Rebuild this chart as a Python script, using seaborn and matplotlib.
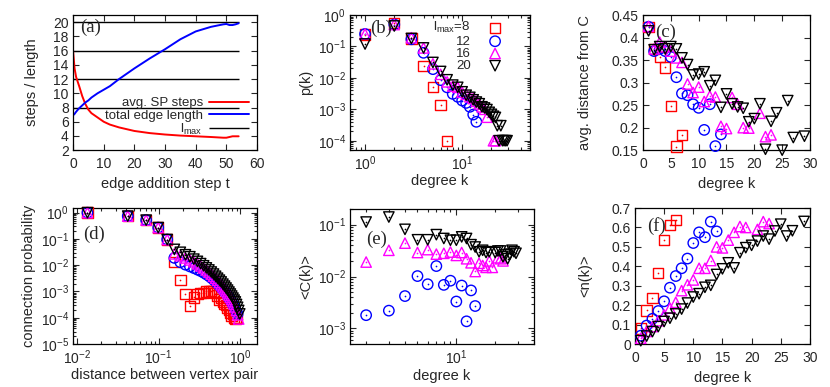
import numpy as np
import pandas as pd
import matplotlib
matplotlib.use("Agg")
import matplotlib.pyplot as plt
import seaborn as sns
from matplotlib.ticker import MultipleLocator, FuncFormatter, NullFormatter, LogLocator

# ---------------- data ----------------
# (a) evolution with edge addition step
t_step = [0, 0.5, 1, 2, 3, 4, 5, 6, 8, 10, 12, 15, 20, 25, 30, 35, 40, 45, 49, 50, 51, 52, 53, 54]
sp_steps = [16, 13.5, 12.3, 11.0, 9.6, 8.5, 7.7, 7.2, 6.6, 6.0, 5.6, 5.2, 4.7, 4.4, 4.2,
            4.05, 3.95, 3.85, 3.75, 3.75, 3.85, 3.95, 3.95, 3.95]
edge_len = [6.9, 7.1, 7.4, 7.9, 8.3, 8.7, 9.0, 9.4, 10.0, 10.5, 11.0, 12.0, 13.5, 14.9, 16.2,
            17.6, 18.7, 19.35, 19.7, 19.75, 19.6, 19.6, 19.7, 19.85]
lmax_levels = [8, 12, 16, 20]

# (b) degree distribution p(k)
b_k_8 = [1, 2, 3, 4, 5, 6, 7]
b_p_8 = [0.24, 0.55, 0.18, 0.024, 0.0052, 0.0014, 0.0001]
b_k_12 = [1, 2, 3, 4, 5, 6, 7, 8, 9, 10, 11, 12, 13, 14]
b_p_12 = [0.25, 0.5, 0.17, 0.063, 0.019, 0.0085, 0.005, 0.0031, 0.0025, 0.0019, 0.0016,
          0.0012, 0.00068, 0.0004]
b_k_16 = [1, 2, 3, 4, 5, 6, 7, 8, 9, 10, 11, 12, 13, 14, 15, 16, 17, 18, 21, 22]
b_p_16 = [0.25, 0.5, 0.19, 0.09, 0.028, 0.013, 0.0075, 0.0055, 0.005, 0.0035, 0.003, 0.0025,
          0.0022, 0.0018, 0.0015, 0.0012, 0.001, 0.00056, 0.0001, 0.0001]
b_k_20 = [1, 2, 3, 4, 5, 6, 7, 8, 9, 10, 11, 12, 13, 14, 15, 16, 17, 18, 19, 20, 21, 22,
          23, 24, 25, 26, 27, 28, 29]
b_p_20 = [0.12, 0.45, 0.18, 0.09, 0.031, 0.016, 0.0087, 0.0059, 0.005, 0.0036, 0.0028, 0.0024,
          0.002, 0.0017, 0.0015, 0.0012, 0.0011, 0.00098, 0.0008, 0.00069, 0.0006, 0.00055,
          0.0003, 0.0001, 0.0003, 0.0001, 0.0001, 0.0001, 0.0001]

# (c) avg. distance from C
c_k_8 = [1, 2, 3, 4, 5, 6, 7]
c_d_8 = [0.424, 0.375, 0.357, 0.334, 0.248, 0.158, 0.184]
c_k_12 = [1, 2, 3, 4, 5, 6, 7, 8, 9, 10, 11, 12, 13, 14]
c_d_12 = [0.424, 0.37, 0.375, 0.37, 0.357, 0.312, 0.276, 0.272, 0.252, 0.244, 0.195, 0.252,
          0.159, 0.185]
c_k_16 = [1, 2, 3, 4, 5, 6, 7, 8, 9, 10, 11, 12, 13, 14, 15, 16, 17, 18, 19, 21, 22, 23]
c_d_16 = [0.425, 0.375, 0.39, 0.38, 0.37, 0.355, 0.345, 0.297, 0.278, 0.29, 0.258, 0.27,
          0.268, 0.203, 0.198, 0.267, 0.252, 0.2, 0.199, 0.232, 0.18, 0.184]
c_k_20 = [1, 2, 3, 4, 5, 6, 7, 8, 9, 10, 11, 12, 13, 14, 15, 16, 17, 18, 19, 20, 21, 22,
          23, 24, 25, 26, 27, 29]
c_d_20 = [0.415, 0.373, 0.38, 0.375, 0.38, 0.375, 0.355, 0.34, 0.317, 0.319, 0.324, 0.293,
          0.305, 0.245, 0.275, 0.253, 0.246, 0.243, 0.213, 0.22, 0.253, 0.152, 0.214, 0.233,
          0.15, 0.26, 0.178, 0.181]

# (d) connection probability vs distance
d_dist = [0.0135, 0.042, 0.0705, 0.099, 0.1275, 0.156, 0.1845, 0.213, 0.2415, 0.27, 0.2985,
          0.327, 0.3555, 0.384, 0.4125, 0.441, 0.4695, 0.498, 0.5265, 0.555, 0.5835, 0.612,
          0.6405, 0.669, 0.6975, 0.726, 0.7545, 0.783, 0.8115, 0.84, 0.8685, 0.897, 0.9255,
          0.954, 0.9825]
d_p_8 = [1.0, 0.74, 0.52, 0.27, 0.095, 0.013, 0.0028, 0.0008, 0.00028, 0.0006, 0.0008,
         0.0009, 0.0009, 0.001, 0.001, 0.00105, 0.001, 0.0009, 0.0007, 0.0005, 0.0006, 0.0004,
         0.00035, 0.0003, 0.00025, 0.0002, 0.00016, 0.00012, 0.00014, 0.0001, 0.00009, 0.0001]
d_p_12 = [1.0, 0.74, 0.52, 0.27, 0.095, 0.019, 0.013, 0.0105, 0.009, 0.0078, 0.0068, 0.006,
          0.0052, 0.0045, 0.0039, 0.0033, 0.0028, 0.0024, 0.002, 0.0017, 0.0014, 0.0012,
          0.001, 0.00085, 0.0007, 0.00058, 0.00048, 0.0004, 0.00033, 0.00027, 0.00021,
          0.00017, 0.00014]
d_p_16 = [1.0, 0.74, 0.52, 0.27, 0.095, 0.027, 0.023, 0.019, 0.016, 0.0135, 0.0113, 0.0095,
          0.0079, 0.0066, 0.0055, 0.0046, 0.0038, 0.0032, 0.0027, 0.0022, 0.0018, 0.0015,
          0.00125, 0.00105, 0.00088, 0.00073, 0.0006, 0.0005, 0.00041, 0.00033, 0.00026,
          0.00019, 0.00013, 0.00009]
d_p_20 = [1.0, 0.74, 0.52, 0.27, 0.095, 0.04, 0.031, 0.025, 0.021, 0.017, 0.014, 0.0115,
          0.0095, 0.0079, 0.0066, 0.0055, 0.0046, 0.0038, 0.0032, 0.0027, 0.0023, 0.0019,
          0.0016, 0.00135, 0.00113, 0.00095, 0.0008, 0.00067, 0.00056, 0.00047, 0.0004,
          0.00032, 0.00025, 0.00019, 0.00014]

# (e) clustering <C(k)>  (no values for lmax=8)
e_k_12 = [2, 3, 4, 5, 6, 7, 8, 9, 10, 11, 12, 13, 14]
e_c_12 = [0.0018, 0.0022, 0.0042, 0.0102, 0.0071, 0.0159, 0.0069, 0.0083, 0.0033, 0.0067,
          0.00137, 0.0054, 0.0027]
e_k_16 = [2, 3, 4, 5, 6, 7, 8, 9, 10, 11, 12, 13, 14, 15, 16, 17, 18, 19, 21, 22, 23]
e_c_16 = [0.019, 0.032, 0.044, 0.029, 0.033, 0.027, 0.028, 0.0296, 0.0255, 0.029, 0.022,
          0.0184, 0.0125, 0.018, 0.0163, 0.015, 0.02, 0.015, 0.023, 0.022, 0.02]
e_k_20 = [2, 3, 4, 5, 6, 7, 8, 9, 10, 11, 12, 13, 14, 15, 16, 17, 18, 20, 21, 22, 23, 24,
          25, 26, 27, 28, 29]
e_c_20 = [0.112, 0.14, 0.081, 0.051, 0.051, 0.064, 0.054, 0.05, 0.05, 0.058, 0.054, 0.041,
          0.037, 0.03, 0.032, 0.029, 0.03, 0.029, 0.031, 0.031, 0.024, 0.026, 0.022, 0.027,
          0.032, 0.03, 0.028]

# (f) <n(k)>
f_k_8 = [1, 2, 3, 4, 5, 6, 7]
f_n_8 = [0.081, 0.173, 0.237, 0.366, 0.536, 0.613, 0.639]
f_k_12 = [1, 2, 3, 4, 5, 6, 7, 8, 9, 10, 11, 12, 13, 14]
f_n_12 = [0.043, 0.095, 0.13, 0.17, 0.22, 0.29, 0.35, 0.39, 0.44, 0.52, 0.575, 0.55, 0.63, 0.58]
f_k_16 = [1, 2, 3, 4, 5, 6, 7, 8, 9, 10, 11, 12, 13, 14, 15, 16, 17, 18, 19, 21, 22, 23]
f_n_16 = [0.03, 0.065, 0.09, 0.12, 0.15, 0.185, 0.215, 0.275, 0.305, 0.33, 0.39, 0.39, 0.43,
          0.5, 0.495, 0.535, 0.575, 0.605, 0.6, 0.59, 0.63, 0.62]
f_k_20 = [1, 2, 3, 4, 5, 6, 7, 8, 9, 10, 11, 12, 13, 14, 15, 16, 17, 18, 19, 20, 21, 22,
          23, 24, 25, 26, 27, 29]
f_n_20 = [0.017, 0.041, 0.064, 0.09, 0.116, 0.133, 0.155, 0.18, 0.211, 0.242, 0.259, 0.292,
          0.302, 0.358, 0.387, 0.418, 0.392, 0.47, 0.496, 0.508, 0.53, 0.556, 0.54, 0.582,
          0.617, 0.556, 0.583, 0.631]

# ---------------- style ----------------
sns.set_style("ticks")
plt.rcParams['font.family'] = ['Liberation Sans', 'DejaVu Sans']
plt.rcParams['mathtext.fontset'] = 'custom'
plt.rcParams['mathtext.rm'] = 'Liberation Sans'
plt.rcParams['mathtext.it'] = 'Liberation Sans:italic'
plt.rcParams['mathtext.bf'] = 'Liberation Sans:bold'
plt.rcParams['font.size'] = 10.5
plt.rcParams['axes.linewidth'] = 0.9

LFS = 10.5   # axis labels
TFS = 10     # tick labels
KFS = 9.5    # legends
series_style = {8: ('s', '#ff0000'), 12: ('o', '#0000ff'),
                16: ('^', '#ff00ff'), 20: ('v', '#000000')}
gfmt = FuncFormatter(lambda v, _: f"{v:g}")


def draw(ax, x, y, lmax, label=None):
    m, c = series_style[lmax]
    sns.scatterplot(x=x, y=y, ax=ax, marker=m, s=56, color=c, facecolor='none',
                    edgecolor=c, linewidth=1.0, label=label, clip_on=False, zorder=3)
    # gnuplot-like centre dot
    sns.scatterplot(x=x, y=y, ax=ax, marker='o', s=1.5, color=c, linewidth=0,
                    legend=False, clip_on=False, zorder=3)


def frame(ax, xlabel, ylabel, xpad, ypad, logx=False, logy=False):
    ax.set_xlabel(xlabel, fontsize=LFS, labelpad=xpad)
    ax.set_ylabel(ylabel, fontsize=LFS, labelpad=ypad)
    ax.tick_params(which='both', direction='in', top=True, right=True, width=0.8,
                   labelsize=TFS)
    ax.tick_params(axis='x', which='both', pad=3 if logx else 5)
    ax.tick_params(axis='y', which='both', pad=3)
    ax.tick_params(which='major', length=4)
    ax.tick_params(which='minor', length=2)
    for s in ax.spines.values():
        s.set_visible(True)
        s.set_color('black')
    if logx:
        ax.xaxis.set_minor_locator(LogLocator(base=10, subs=np.arange(2, 10), numticks=20))
        ax.xaxis.set_minor_formatter(NullFormatter())
    if logy:
        ax.yaxis.set_major_locator(LogLocator(base=10, numticks=20))
        ax.yaxis.set_minor_locator(LogLocator(base=10, subs=np.arange(2, 10), numticks=20))
        ax.yaxis.set_minor_formatter(NullFormatter())


def panel_label(ax, txt, x, y):
    ax.text(x, y, txt, transform=ax.transAxes, family='Liberation Serif', fontsize=13.5,
            ha='left', va='center')


fig = plt.figure(figsize=(8.3, 3.87), dpi=100)
ax_a = fig.add_axes([0.088, 0.612, 0.2217, 0.349])
ax_b = fig.add_axes([0.4217, 0.612, 0.2169, 0.349])
ax_c = fig.add_axes([0.7747, 0.612, 0.2012, 0.349])
ax_d = fig.add_axes([0.088, 0.111, 0.2217, 0.3514])
ax_e = fig.add_axes([0.4217, 0.111, 0.2217, 0.349])
ax_f = fig.add_axes([0.765, 0.111, 0.2108, 0.3514])

# (a)
hl = ax_a.hlines(lmax_levels, t_step[0], t_step[-1], color='black', lw=1.0)
sns.lineplot(x=t_step, y=sp_steps, ax=ax_a, color='#ff0000', lw=1.4)
sns.lineplot(x=t_step, y=edge_len, ax=ax_a, color='#0000ff', lw=1.4)
h_red, h_blue = ax_a.get_lines()[:2]
ax_a.legend([h_red, h_blue, hl], ['avg. SP steps', 'total edge length', r'l$_{\mathrm{max}}$'],
            loc='lower right', bbox_to_anchor=(0.985, 0.06), markerfirst=False, frameon=False,
            fontsize=KFS, handlelength=3.0, handletextpad=0.5, labelspacing=0.0,
            borderaxespad=0.0)
ax_a.set_xlim(0, 60)
ax_a.set_ylim(2, 21)
ax_a.xaxis.set_major_locator(MultipleLocator(10))
ax_a.yaxis.set_major_locator(MultipleLocator(2))
frame(ax_a, 'edge addition step t', 'steps / length', 4, 10)
panel_label(ax_a, '(a)', 0.04, 0.91)

# (b)
ax_b.set_xscale('log')
ax_b.set_yscale('log')
draw(ax_b, b_k_8, b_p_8, 8, r'l$_{\mathrm{max}}$=8')
draw(ax_b, b_k_12, b_p_12, 12, '12')
draw(ax_b, b_k_16, b_p_16, 16, '16')
draw(ax_b, b_k_20, b_p_20, 20, '20')
ax_b.legend(loc='upper right', bbox_to_anchor=(0.89, 1.0), markerfirst=False, frameon=False,
            fontsize=KFS, handlelength=1.5, handletextpad=1.1, labelspacing=0.0,
            borderaxespad=0.0)
ax_b.set_xlim(0.7, 50)
ax_b.set_ylim(5e-5, 1)
frame(ax_b, 'degree k', 'p(k)', 1, 3, logx=True, logy=True)
panel_label(ax_b, '(b)', 0.11, 0.9)

# (c)
draw(ax_c, c_k_8, c_d_8, 8)
draw(ax_c, c_k_12, c_d_12, 12)
draw(ax_c, c_k_16, c_d_16, 16)
draw(ax_c, c_k_20, c_d_20, 20)
ax_c.set_xlim(0, 30)
ax_c.set_ylim(0.15, 0.45)
ax_c.xaxis.set_major_locator(MultipleLocator(5))
ax_c.yaxis.set_major_locator(MultipleLocator(0.05))
ax_c.yaxis.set_major_formatter(gfmt)
frame(ax_c, 'degree k', 'avg. distance from C', 4.5, 14)
panel_label(ax_c, '(c)', 0.075, 0.875)

# (d)
ax_d.set_xscale('log')
ax_d.set_yscale('log')
draw(ax_d, d_dist[:len(d_p_8)], d_p_8, 8)
draw(ax_d, d_dist[:len(d_p_12)], d_p_12, 12)
draw(ax_d, d_dist[:len(d_p_16)], d_p_16, 16)
draw(ax_d, d_dist[:len(d_p_20)], d_p_20, 20)
ax_d.set_xlim(0.009, 1.6)
ax_d.set_ylim(1e-5, 1.5)
frame(ax_d, 'distance between vertex pair', 'connection probability', 1, 3,
      logx=True, logy=True)
panel_label(ax_d, '(d)', 0.055, 0.81)

# (e)
ax_e.set_xscale('log')
ax_e.set_yscale('log')
draw(ax_e, e_k_12, e_c_12, 12)
draw(ax_e, e_k_16, e_c_16, 16)
draw(ax_e, e_k_20, e_c_20, 20)
ax_e.set_xlim(1.5, 40)
ax_e.set_ylim(5e-4, 0.2)
frame(ax_e, 'degree k', '<C(k)>', 1.5, 3, logx=True, logy=True)
panel_label(ax_e, '(e)', 0.088, 0.775)

# (f)
draw(ax_f, f_k_8, f_n_8, 8)
draw(ax_f, f_k_12, f_n_12, 12)
draw(ax_f, f_k_16, f_n_16, 16)
draw(ax_f, f_k_20, f_n_20, 20)
ax_f.set_xlim(0, 30)
ax_f.set_ylim(0, 0.7)
ax_f.xaxis.set_major_locator(MultipleLocator(5))
ax_f.yaxis.set_major_locator(MultipleLocator(0.1))
ax_f.yaxis.set_major_formatter(gfmt)
frame(ax_f, 'degree k', '<n(k)>', 4.5, 14)
panel_label(ax_f, '(f)', 0.07, 0.865)

fig.savefig('out.png', dpi=100)
